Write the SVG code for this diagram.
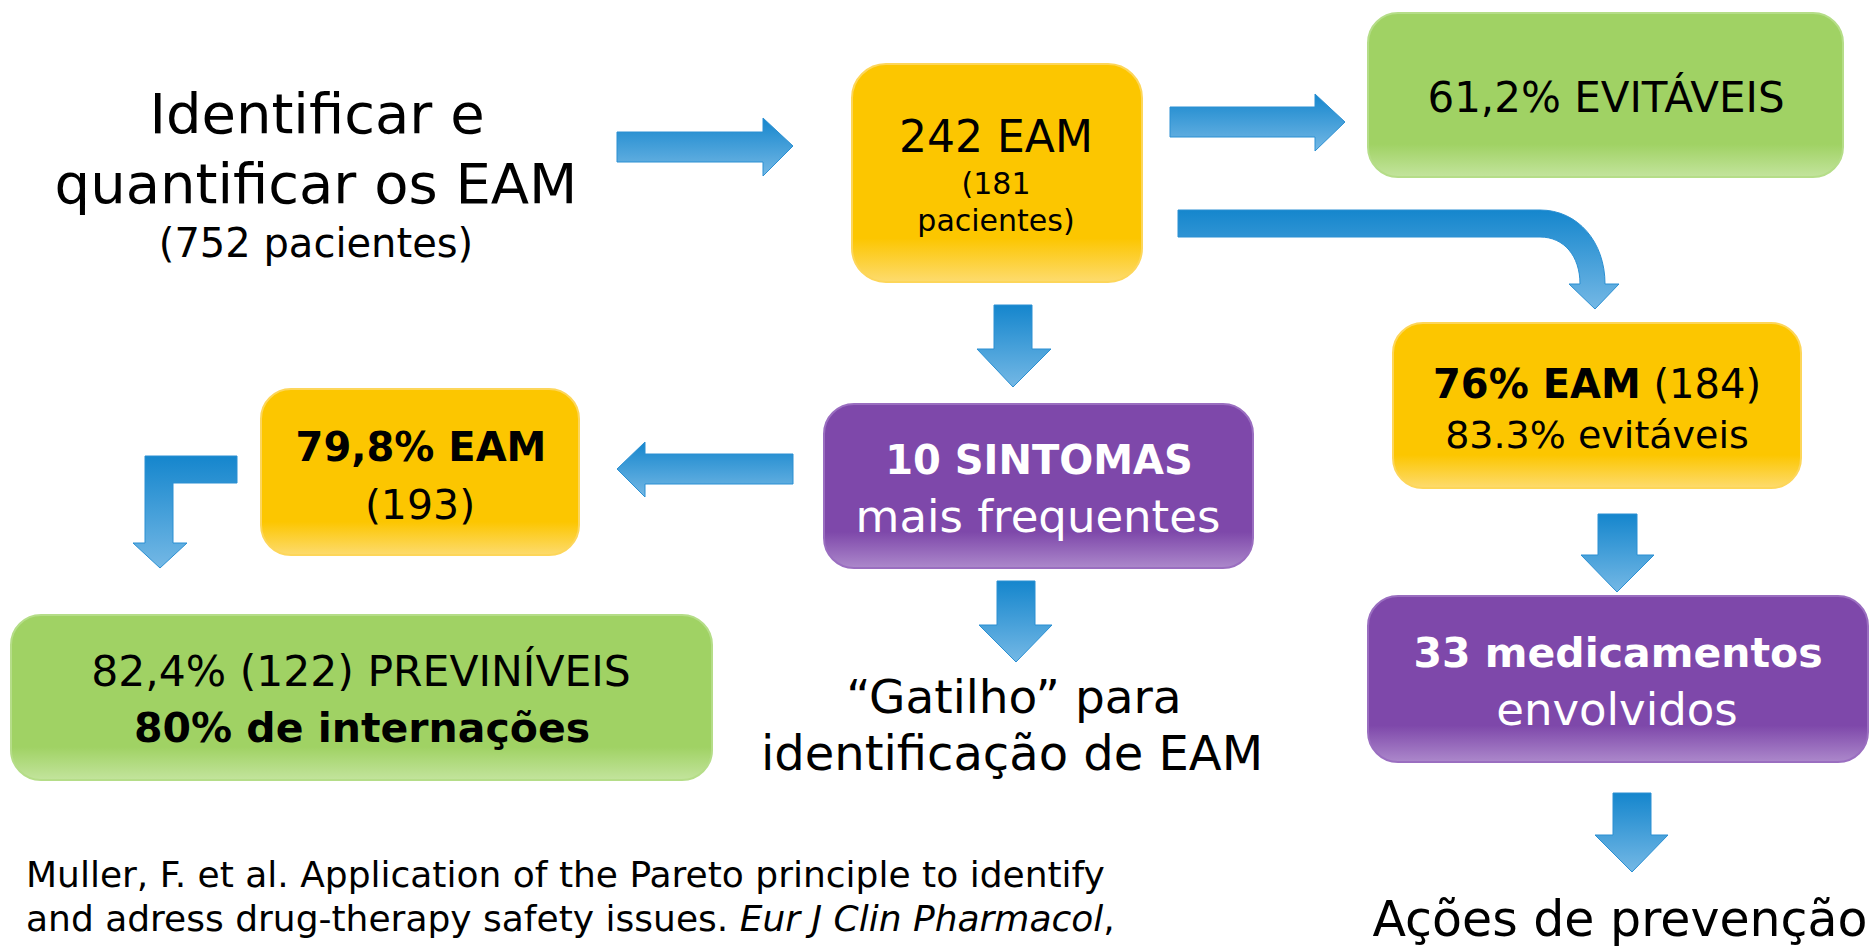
<svg xmlns="http://www.w3.org/2000/svg" width="1874" height="948" viewBox="0 0 1874 948">
<defs>
<linearGradient id="gY" x1="0" y1="0" x2="0" y2="1">
<stop offset="0" stop-color="#FCC600"/><stop offset="0.8" stop-color="#FCC600"/><stop offset="1" stop-color="#FDDB6E"/>
</linearGradient>
<linearGradient id="gG" x1="0" y1="0" x2="0" y2="1">
<stop offset="0" stop-color="#A0D264"/><stop offset="0.8" stop-color="#A0D264"/><stop offset="1" stop-color="#C3E49D"/>
</linearGradient>
<linearGradient id="gP" x1="0" y1="0" x2="0" y2="1">
<stop offset="0" stop-color="#7E48AA"/><stop offset="0.78" stop-color="#7E48AA"/><stop offset="1" stop-color="#AC88CB"/>
</linearGradient>
<linearGradient id="gA" x1="0" y1="0" x2="0" y2="1">
<stop offset="0" stop-color="#1586CD"/><stop offset="1" stop-color="#74B8E5"/>
</linearGradient>
</defs>
<style>
text{font-family:"DejaVu Sans","Liberation Sans",sans-serif;fill:#000;text-anchor:middle}
.b{font-weight:bold}
.w{fill:#fff}
.arr{fill:url(#gA);stroke:#2A8FD2;stroke-width:1}
.ya{fill:url(#gY);stroke:#FDD65A;stroke-width:2}
.gr{fill:url(#gG);stroke:#B5DD88;stroke-width:2}
.pu{fill:url(#gP);stroke:#9A6EC0;stroke-width:2}
</style>

<g id="connectors">
<path class="arr" d="M617,132 L763,132 L763,118 L793,146 L763,176 L763,162 L617,162 Z"/>
<path class="arr" d="M1170,107 L1315,107 L1315,94 L1345,122 L1315,151 L1315,137 L1170,137 Z"/>
<path class="arr" d="M1178,210 L1540,210 C1578,210 1605,242 1605,284 L1619,284 L1595,309 L1569,284 L1580,284 C1580,256 1564,237 1540,237 L1178,237 Z"/>
<path class="arr" d="M994,305 L1032,305 L1032,349 L1051,349 L1013,387 L977,349 L994,349 Z"/>
<path class="arr" d="M793,454 L645,454 L645,442 L617,469 L645,497 L645,484 L793,484 Z"/>
<path class="arr" d="M237,456 L237,483 L173,483 L173,543 L187,543 L160,568 L133,543 L145,543 L145,456 Z"/>
<path class="arr" d="M997,581 L1035,581 L1035,625 L1052,625 L1016,662 L979,625 L997,625 Z"/>
<path class="arr" d="M1598,514 L1637,514 L1637,555 L1654,555 L1617,592 L1581,555 L1598,555 Z"/>
<path class="arr" d="M1613,793 L1651,793 L1651,835 L1668,835 L1632,872 L1595,835 L1613,835 Z"/>
</g>

<g id="start">
<text x="317" y="133" font-size="56">Identificar e</text>
<text x="316" y="203" font-size="56">quantificar os EAM</text>
<text x="316" y="257" font-size="40">(752 pacientes)</text>
</g>

<g id="n242">
<rect class="ya" x="852" y="64" width="290" height="218" rx="34"/>
<text x="996" y="152" font-size="44">242 EAM</text>
<text x="996" y="194" font-size="30">(181</text>
<text x="996" y="231" font-size="30">pacientes)</text>
</g>

<g id="nEvitaveis">
<rect class="gr" x="1368" y="13" width="475" height="164" rx="30"/>
<text x="1606" y="112" font-size="42">61,2% EVITÁVEIS</text>
</g>

<g id="n76">
<rect class="ya" x="1393" y="323" width="408" height="165" rx="30"/>
<text x="1597" y="398" font-size="40"><tspan class="b">76% EAM</tspan> (184)</text>
<text x="1597" y="448" font-size="38">83.3% evitáveis</text>
</g>

<g id="nSintomas">
<rect class="pu" x="824" y="404" width="429" height="164" rx="30"/>
<text class="b w" x="1039" y="474" font-size="40">10 SINTOMAS</text>
<text class="w" x="1038" y="532" font-size="45">mais frequentes</text>
</g>

<g id="n79">
<rect class="ya" x="261" y="389" width="318" height="166" rx="30"/>
<text class="b" x="421" y="461" font-size="40">79,8% EAM</text>
<text x="420" y="519" font-size="41">(193)</text>
</g>

<g id="nPreviniveis">
<rect class="gr" x="11" y="615" width="701" height="165" rx="30"/>
<text x="361" y="686" font-size="42.5">82,4% (122) PREVINÍVEIS</text>
<text class="b" x="362" y="742" font-size="41">80% de internações</text>
</g>

<g id="nGatilho">
<text x="1014" y="713" font-size="47">“Gatilho” para</text>
<text x="1012" y="770" font-size="48">identificação de EAM</text>
</g>

<g id="nMedicamentos">
<rect class="pu" x="1368" y="596" width="500" height="166" rx="30"/>
<text class="b w" x="1618" y="667" font-size="41">33 medicamentos</text>
<text class="w" x="1617" y="725" font-size="45">envolvidos</text>
</g>

<g id="nAcoes">
<text x="1620" y="936" font-size="49">Ações de prevenção</text>
</g>

<g id="citation">
<text x="26" y="887" font-size="36" style="text-anchor:start">Muller, F. et al. Application of the Pareto principle to identify</text>
<text x="26" y="931" font-size="36" style="text-anchor:start">and adress drug-therapy safety issues. <tspan font-style="italic">Eur J Clin Pharmacol</tspan>,</text>
</g>
</svg>
